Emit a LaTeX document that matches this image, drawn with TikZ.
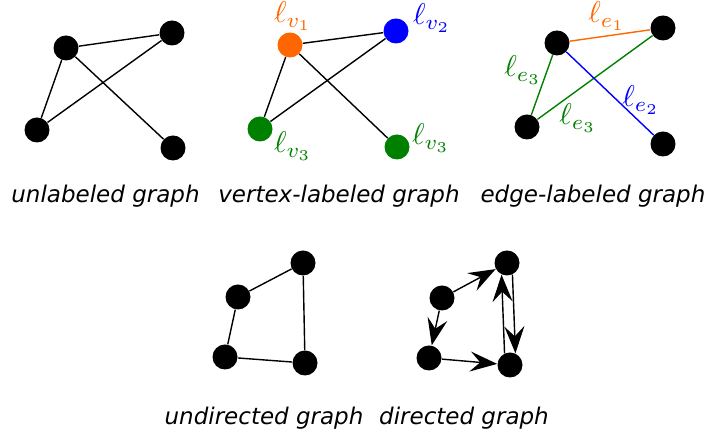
\documentclass[tikz,border=0pt]{standalone}
\usepackage{fontspec}
\setmainfont{DejaVu Sans}
\usetikzlibrary{arrows.meta}
\definecolor{lorange}{RGB}{255,102,0}
\definecolor{lgreen}{RGB}{0,128,0}
\definecolor{lblue}{RGB}{0,0,255}
\begin{document}
\begin{tikzpicture}[
        x=0.5pt, y=-0.5pt,
        vertex/.style={circle, fill=black, minimum size=12.5pt, inner sep=0pt},
        edge/.style={line width=0.7pt},
        arc/.style={line width=0.7pt, -{Stealth[length=13.5pt,width=10pt,inset=5pt]}},
        caption/.style={anchor=base, font=\fontsize{11.5}{14}\selectfont\itshape},
        lbl/.style={anchor=base, inner sep=0pt, scale=1.5, font=\fontsize{10}{12}\selectfont}
      ]
      \useasboundingbox (0,0) rectangle (708,437);

      % unlabeled graph
      \node[vertex] (u1) at (66,48) {};
      \node[vertex] (u2) at (172,33) {};
      \node[vertex] (u3) at (37,130) {};
      \node[vertex] (u4) at (173,148) {};
      \draw[edge] (u1) -- (u2);
      \draw[edge] (u1) -- (u3);
      \draw[edge] (u3) -- (u2);
      \draw[edge] (u1) -- (u4);
      \node[caption] (cu) at (105.5,203) {unlabeled graph};

      % vertex-labeled graph
      \node[vertex, fill=lorange] (v1) at (290,45) {};
      \node[vertex, fill=lblue] (v2) at (396,31) {};
      \node[vertex, fill=lgreen] (v3) at (260,129) {};
      \node[vertex, fill=lgreen] (v4) at (397,147) {};
      \draw[edge] (v1) -- (v2);
      \draw[edge] (v1) -- (v3);
      \draw[edge] (v3) -- (v2);
      \draw[edge] (v1) -- (v4);
      \node[lbl, lorange] (lv1) at (293,23) {$\ell_{v_1}$};
      \node[lbl, lblue] (lv2) at (432,25) {$\ell_{v_2}$};
      \node[lbl, lgreen] (lv3) at (293,153) {$\ell_{v_3}$};
      \node[lbl, lgreen] (lv4) at (431,145) {$\ell_{v_3}$};
      \node[caption] (cv) at (339,203) {vertex-labeled graph};

      % edge-labeled graph
      \node[vertex] (e1) at (557,43) {};
      \node[vertex] (e2) at (663,28) {};
      \node[vertex] (e3) at (527,127) {};
      \node[vertex] (e4) at (663,144) {};
      \draw[edge, lorange] (e1) -- (e2);
      \draw[edge, lgreen] (e1) -- (e3);
      \draw[edge, lgreen] (e3) -- (e2);
      \draw[edge, lblue] (e1) -- (e4);
      \node[lbl, lorange] (le1) at (607,23) {$\ell_{e_1}$};
      \node[lbl, lgreen] (le3a) at (523,77) {$\ell_{e_3}$};
      \node[lbl, lgreen] (le3b) at (578,125) {$\ell_{e_3}$};
      \node[lbl, lblue] (le2) at (641,107) {$\ell_{e_2}$};
      \node[caption] (ce) at (593,203) {edge-labeled graph};

      % undirected graph
      \node[vertex] (n1) at (238,297) {};
      \node[vertex] (n2) at (303,263) {};
      \node[vertex] (n3) at (225,357) {};
      \node[vertex] (n4) at (305,363) {};
      \draw[edge] (n1) -- (n2);
      \draw[edge] (n1) -- (n3);
      \draw[edge] (n3) -- (n4);
      \draw[edge] (n2) -- (n4);
      \node[caption] (cn) at (264,425) {undirected graph};

      % directed graph
      \node[vertex] (d1) at (442,298) {};
      \node[vertex] (d2) at (507,263) {};
      \node[vertex] (d3) at (429,358) {};
      \node[vertex] (d4) at (510,365) {};
      \draw[arc] (d1) -- (d2);
      \draw[arc] (d1) -- (d3);
      \draw[arc] (d3) -- (d4);
      \draw[arc] (d4.115) -- (d2.245);
      \draw[arc] (d2.295) -- (d4.65);
      \node[caption] (cd) at (464,425) {directed graph};
    \end{tikzpicture}
\end{document}
